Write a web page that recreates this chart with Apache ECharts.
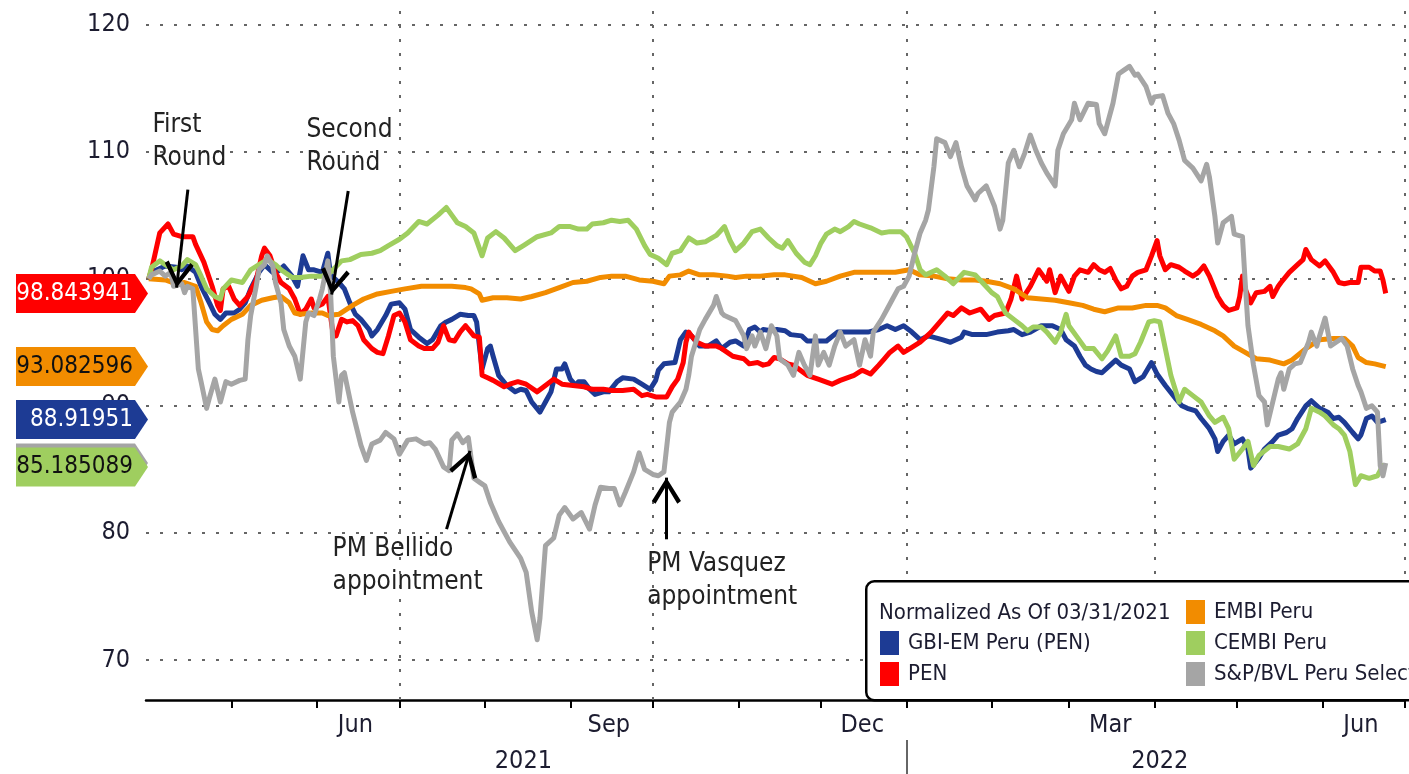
<!DOCTYPE html>
<html>
<head>
<meta charset="utf-8">
<title>Peru assets, normalized</title>
<script src="https://cdn.jsdelivr.net/npm/echarts@6/dist/echarts.min.js"></script>
<style>
  html, body { margin: 0; padding: 0; background: #fff; }
  #chart { width: 1409px; height: 774px; }
</style>
</head>
<body>
<div id="chart"></div>
<script>
// days are counted from 03/31/2021 (the normalization date)
const gbiPeru = [[1,100],[2,100.5],[7,101.0],[11,100.9],[13,100.7],[15,101.0],[18,100.5],[20,99.4],[23,98.1],[25,97.2],[27,96.8],[29,97.3],[32,97.3],[34,97.6],[36,98.1],[38,99.2],[41,100.5],[43,101.1],[46,100.5],[48,100.6],[50,101.0],[53,100.2],[55,99.4],[57,101.8],[59,100.7],[61,100.7],[64,100.5],[66,102.0],[67,100.3],[70,99.7],[72,99.2],[74,98.1],[76,97.2],[78,96.8],[81,96.0],[82,95.5],[84,96.0],[87,97.1],[89,98.0],[92,98.1],[94,97.6],[96,96.0],[99,95.4],[102,94.9],[104,95.2],[107,96.3],[109,96.6],[111,96.8],[114,97.2],[117,97.1],[119,97.1],[120,96.6],[122,92.9],[124,94.5],[125,94.7],[126,93.9],[128,92.4],[131,91.6],[134,91.1],[136,91.3],[138,91.2],[140,90.3],[143,89.5],[145,90.3],[147,91.1],[149,92.9],[151,92.9],[152,93.3],[154,92.1],[156,91.6],[157,91.9],[159,91.9],[161,91.3],[163,90.9],[166,91.1],[168,91.1],[171,91.9],[173,92.2],[177,92.1],[180,91.7],[183,91.3],[185,92.0],[186,92.8],[188,93.3],[192,93.4],[194,95.2],[196,95.8],[198,95.5],[201,94.7],[204,94.7],[207,95.1],[209,94.5],[212,95.0],[214,95.1],[217,94.7],[219,96.0],[221,96.2],[223,95.8],[224,96.0],[227,95.9],[229,96.0],[232,95.9],[234,95.6],[238,95.5],[240,95.1],[244,95.1],[247,95.1],[251,95.8],[254,95.8],[258,95.8],[262,95.8],[266,96.0],[269,96.3],[272,96.0],[275,96.3],[278,95.8],[281,95.2],[284,95.5],[289,95.2],[292,95.0],[296,95.4],[297,95.8],[300,95.6],[305,95.6],[309,95.8],[313,95.9],[315,96.0],[318,95.6],[321,95.8],[325,96.3],[329,96.3],[332,96.0],[334,95.2],[337,94.7],[339,93.9],[341,93.2],[343,92.9],[345,92.7],[347,92.6],[349,93.0],[352,93.6],[354,93.2],[357,92.9],[359,91.9],[362,92.3],[365,93.4],[367,92.5],[370,91.6],[374,90.5],[376,90.0],[378,89.8],[381,89.6],[383,89.0],[386,88.2],[388,87.4],[389,86.4],[391,87.2],[393,87.7],[395,87.0],[398,87.4],[400,86.6],[401,85.1],[404,85.9],[406,86.6],[409,87.2],[411,87.7],[414,87.9],[416,88.2],[418,89.0],[421,90.0],[423,90.4],[426,89.8],[429,89.5],[431,89.0],[433,89.1],[435,88.7],[438,87.9],[440,87.4],[441,87.7],[443,89.0],[445,89.2],[447,88.7],[450,88.91951]];

const pen = [[1,100],[2,100.7],[5,103.6],[8,104.3],[10,103.5],[13,103.3],[17,103.3],[18,102.7],[21,101.3],[24,99.4],[26,97.9],[27,97.5],[28,99.2],[30,99.4],[32,98.4],[34,97.9],[37,98.6],[40,99.9],[42,101.8],[43,102.4],[45,101.8],[47,100.5],[49,99.7],[52,99.2],[54,98.4],[56,97.2],[58,97.6],[60,98.4],[61,97.7],[64,98.0],[66,98.6],[68,95.5],[69,95.5],[71,96.8],[73,96.6],[75,96.7],[77,96.3],[79,95.2],[82,94.5],[84,94.2],[86,94.1],[88,95.5],[90,97.1],[92,97.3],[94,96.6],[96,95.2],[99,94.7],[101,94.5],[104,94.5],[106,95.0],[108,96.3],[110,95.2],[112,95.1],[114,95.8],[116,96.3],[119,95.5],[121,95.4],[122,92.4],[124,92.2],[126,92.0],[130,91.5],[132,91.7],[135,91.9],[138,91.7],[142,91.1],[145,91.6],[148,92.1],[151,91.7],[155,91.6],[159,91.5],[162,91.3],[166,91.3],[169,91.2],[173,91.2],[177,91.3],[180,90.8],[182,90.9],[185,90.7],[189,90.7],[191,91.5],[193,92.1],[195,93.4],[196,95.0],[197,95.8],[198,95.5],[200,95.0],[203,94.7],[207,94.7],[209,94.5],[213,93.9],[217,93.7],[219,93.3],[222,93.4],[224,93.2],[226,93.3],[228,93.8],[230,93.7],[233,93.3],[235,93.2],[240,92.4],[244,92.1],[249,91.7],[252,92.0],[257,92.4],[260,92.8],[263,92.5],[266,93.2],[268,93.7],[270,94.2],[273,94.7],[275,94.2],[278,94.6],[281,95.0],[285,95.8],[289,96.8],[291,97.3],[293,97.1],[296,97.7],[299,97.3],[303,97.6],[306,96.8],[308,97.1],[312,97.3],[314,98.4],[316,100.2],[318,98.4],[321,99.4],[324,100.7],[327,99.8],[328,100.7],[330,98.9],[332,100.2],[335,99.0],[337,100.2],[339,100.7],[342,100.5],[344,101.1],[346,100.7],[348,100.5],[350,100.8],[352,99.9],[354,99.2],[356,99.4],[358,100.2],[360,100.5],[363,100.7],[365,101.8],[367,103.0],[368,101.8],[370,100.7],[372,101.1],[375,100.9],[377,100.6],[380,100.2],[382,100.5],[384,101.0],[386,100.2],[389,98.6],[391,97.9],[393,97.5],[396,97.7],[397,98.6],[398,100.2],[399,99.2],[401,98.1],[403,98.9],[406,99.0],[408,99.4],[409,98.6],[411,99.4],[412,99.7],[415,100.5],[418,101.1],[420,101.5],[421,102.3],[423,101.5],[426,101.0],[428,101.4],[431,100.5],[433,99.7],[435,99.6],[437,99.7],[440,99.7],[441,100.9],[444,100.9],[446,100.6],[448,100.6],[449,99.9],[450,98.843941]];

const embiPeru = [[1,100],[7,99.9],[11,99.6],[14,99.7],[18,99.4],[20,98.1],[22,96.6],[24,96.0],[26,95.9],[28,96.3],[31,96.8],[35,97.2],[38,97.9],[42,98.3],[46,98.5],[49,98.6],[52,98.1],[54,97.3],[56,97.2],[60,97.3],[64,97.3],[66,97.1],[70,97.2],[75,97.9],[79,98.4],[84,98.8],[89,99.0],[94,99.2],[100,99.4],[105,99.4],[111,99.4],[116,99.3],[118,99.2],[121,98.8],[122,98.3],[126,98.5],[131,98.5],[136,98.4],[140,98.6],[145,98.9],[150,99.3],[155,99.7],[160,99.8],[165,100.1],[169,100.2],[174,100.2],[179,99.9],[184,99.8],[188,99.6],[190,100.2],[194,100.3],[197,100.6],[201,100.3],[206,100.3],[211,100.2],[214,100.1],[218,100.2],[223,100.2],[228,100.3],[232,100.3],[238,100.1],[243,99.6],[247,99.8],[252,100.2],[257,100.5],[264,100.5],[272,100.5],[277,100.7],[281,100.3],[286,100.2],[291,100.0],[296,99.9],[301,99.9],[305,99.8],[310,99.6],[315,99.2],[320,98.5],[325,98.4],[330,98.3],[335,98.1],[340,97.9],[344,97.6],[348,97.4],[353,97.7],[358,97.7],[363,97.9],[367,97.9],[370,97.7],[374,97.1],[378,96.8],[383,96.4],[388,95.9],[391,95.5],[395,94.7],[399,94.2],[403,93.7],[408,93.6],[413,93.3],[416,93.6],[421,94.5],[426,95.2],[431,95.3],[435,95.3],[438,94.7],[440,93.8],[443,93.4],[446,93.3],[450,93.082596]];

const cembiPeru = [[1,100],[2,100.9],[5,101.4],[7,101.1],[10,100.7],[13,101.0],[15,101.5],[18,101.1],[20,100.2],[22,99.2],[25,98.6],[27,98.4],[28,99.2],[31,99.9],[35,99.7],[38,100.7],[41,101.1],[44,101.5],[47,101.1],[49,100.7],[53,100.1],[56,100.1],[60,100.2],[64,100.2],[67,100.5],[71,101.4],[74,101.5],[78,101.9],[82,102.0],[85,102.2],[88,102.6],[92,103.1],[95,103.6],[99,104.5],[102,104.3],[106,105.0],[109,105.6],[111,105.0],[113,104.4],[116,104.1],[119,103.6],[122,101.8],[124,103.2],[127,103.7],[130,103.2],[134,102.2],[137,102.6],[142,103.3],[147,103.6],[150,104.1],[154,104.1],[157,103.9],[160,103.9],[162,104.3],[166,104.4],[169,104.6],[172,104.5],[175,104.6],[178,103.9],[181,102.6],[183,101.9],[186,101.6],[189,101.1],[191,102.0],[194,102.2],[197,103.2],[200,102.8],[203,102.9],[207,103.4],[210,104.1],[212,103.0],[214,102.2],[217,102.8],[220,103.7],[223,103.9],[226,103.2],[229,102.6],[231,102.4],[233,103.0],[236,102.0],[239,101.3],[241,101.1],[243,101.8],[245,102.8],[247,103.5],[250,103.9],[252,103.7],[255,104.1],[257,104.5],[259,104.3],[263,104.0],[267,103.6],[270,103.7],[274,103.7],[276,103.3],[279,102.0],[281,100.7],[283,100.3],[287,100.7],[290,100.2],[293,99.6],[297,100.5],[301,100.3],[304,99.6],[307,98.9],[309,98.6],[312,97.3],[315,96.8],[318,96.3],[320,95.9],[322,96.2],[325,96.2],[327,95.8],[330,95.0],[332,95.8],[334,97.2],[335,96.3],[338,95.4],[341,94.5],[344,94.5],[347,93.7],[349,94.3],[352,95.5],[354,93.9],[357,93.9],[359,94.1],[361,95.0],[364,96.6],[366,96.7],[368,96.6],[370,94.5],[372,92.4],[375,90.3],[377,91.3],[380,90.8],[383,90.3],[386,89.2],[388,88.7],[391,89.1],[393,88.2],[395,85.8],[398,86.6],[400,87.2],[402,85.3],[404,86.1],[408,86.8],[411,86.8],[415,86.6],[418,87.0],[421,88.2],[423,89.8],[426,89.5],[428,89.2],[431,88.5],[433,88.2],[435,87.7],[437,86.4],[439,83.8],[441,84.5],[444,84.3],[447,84.5],[449,85.3],[450,85.185089]];

const bvlPeru = [[1,100],[2,100.3],[5,100.6],[7,100.2],[9,100.5],[10,99.4],[13,99.6],[14,98.9],[15,99.4],[17,99.2],[19,92.9],[20,91.9],[22,89.8],[23,90.6],[25,92.1],[27,90.3],[29,91.9],[31,91.7],[34,92.0],[36,92.1],[37,95.2],[38,97.1],[40,99.4],[41,100.7],[43,101.1],[44,101.8],[46,101.0],[47,99.7],[49,98.1],[50,96.0],[52,94.7],[54,93.9],[56,92.1],[58,96.6],[59,97.3],[61,97.1],[63,98.4],[64,99.2],[66,101.4],[67,98.9],[68,93.9],[70,90.3],[71,92.4],[72,92.6],[75,89.5],[78,86.9],[80,85.7],[82,87.0],[85,87.3],[87,87.9],[90,87.4],[92,86.2],[95,87.3],[98,87.4],[101,87.0],[103,87.1],[105,86.6],[108,85.2],[110,84.9],[111,87.3],[113,87.8],[115,87.1],[117,87.5],[119,84.3],[121,84.0],[123,83.7],[125,82.4],[128,80.9],[132,79.3],[136,78.0],[138,76.9],[140,73.8],[142,71.6],[143,73.3],[145,79.0],[148,79.6],[150,81.4],[152,82.0],[155,81.1],[158,81.6],[161,80.3],[163,82.2],[165,83.6],[168,83.5],[170,83.5],[172,82.2],[174,83.2],[177,84.8],[179,86.3],[181,85.0],[184,84.6],[186,84.5],[188,84.8],[190,88.7],[191,89.5],[194,90.3],[196,91.3],[197,92.4],[198,93.9],[201,96.0],[203,96.8],[206,97.9],[207,98.6],[209,97.3],[210,97.1],[214,96.7],[217,95.5],[218,94.5],[220,95.5],[221,94.7],[223,95.8],[225,94.5],[227,96.3],[229,95.5],[230,93.7],[233,93.2],[235,92.4],[237,94.2],[239,93.2],[241,92.4],[243,95.5],[244,93.2],[246,94.2],[248,93.2],[250,94.7],[252,95.8],[254,94.7],[257,95.2],[259,93.2],[261,95.2],[263,93.9],[264,95.8],[267,96.8],[269,97.6],[271,98.4],[273,99.2],[275,99.4],[277,100.2],[279,102.0],[281,103.6],[283,104.6],[284,105.4],[286,108.8],[287,111.0],[290,110.7],[292,109.6],[294,110.7],[296,108.8],[298,107.3],[301,106.2],[302,106.7],[305,107.3],[308,105.7],[310,103.9],[311,104.6],[313,109.1],[315,110.1],[317,108.8],[319,109.9],[321,111.3],[323,110.1],[325,109.1],[327,108.3],[330,107.3],[331,110.1],[333,111.4],[336,112.5],[337,113.8],[339,112.5],[342,113.8],[345,113.7],[346,112.2],[348,111.4],[351,113.8],[353,116.1],[355,116.4],[357,116.7],[359,116.0],[360,116.1],[363,115.1],[365,113.8],[366,114.3],[369,114.4],[371,113.0],[373,112.2],[375,110.9],[377,109.3],[380,108.7],[383,107.7],[385,109.0],[386,108.0],[388,104.9],[389,102.8],[391,104.4],[394,104.9],[395,103.5],[398,103.3],[399,99.7],[400,96.3],[402,93.2],[404,90.8],[406,90.3],[407,88.5],[409,90.3],[411,92.1],[412,92.6],[413,91.3],[415,92.9],[417,93.3],[419,93.4],[422,95.0],[423,95.8],[425,94.7],[426,95.5],[428,96.9],[430,94.7],[432,95.0],[434,95.3],[436,94.7],[438,92.9],[440,91.6],[441,91.1],[443,89.8],[445,90.0],[447,89.5],[448,85.3],[449,84.5],[450,85.5]];

// axis ticks and labels
const yLabels = [70, 80, 90, 100, 110, 120];
const monthTicks = ['2021-05-01','2021-06-01','2021-07-01','2021-08-01','2021-09-01','2021-10-01','2021-11-01','2021-12-01','2022-01-01','2022-02-01','2022-03-01','2022-04-01','2022-05-01','2022-06-01','2022-07-01'];
const monthLabels = ['2021-06-15','2021-09-15','2021-12-16','2022-03-16','2022-06-15'];
const quarterLines = ['2021-07-01','2021-10-01','2022-01-01','2022-04-01','2022-07-01'];
const yearLabels = ['2021-08-15','2022-04-03'];
const yearBreaks = ['2022-01-01'];

// annotations: [text, day, value] for the text corner, arrows: [fromDay, fromValue, toDay, toValue]
const notes = [
  ['First\nRound', 2.5, 113.3],
  ['Second\nRound', 58.4, 112.9],
  ['PM Bellido\nappointment', 67.9, 80.0],
  ['PM Vasquez\nappointment', 182.1, 78.8]
];
const arrows = [
  [15.2, 107.0, 11.1, 99.3],
  [73.4, 106.9, 67.4, 98.75],
  [109.1, 80.3, 117.6, 86.45],
  [188.9, 79.5, 188.9, 84.35]
];

const FONT = "'DejaVu Sans Condensed', 'Liberation Sans', sans-serif";
const INK = '#1c1c30';
const MONTHS = ['Jan','Feb','Mar','Apr','May','Jun','Jul','Aug','Sep','Oct','Nov','Dec'];
const TAG = 'path://M0,0 L119,0 L132,19.5 L119,39 L0,39 Z';
const ARROW = 'path://M0,0 L0.1,0 L0,0.1 Z M100,0 L99.9,0 L100,0.1 Z M50,50 L78,95 L71,100 L50,65 L29,100 L22,95 Z';

function ymd(s) {
  const p = s.split('-').map(Number);
  return new Date(p[0], p[1] - 1, p[2]).getTime();
}
function dayTime(n) {
  return ymd('2021-03-31') + n * 86400000;
}
const X_MIN = ymd('2021-03-31');
const X_MAX = ymd('2022-07-01');

function toSeries(points) {
  return points.map(p => [dayTime(p[0]), p[1]]);
}

function lastTag(points, fill, textColor, z) {
  const last = points[points.length - 1][1];
  return {
    silent: true,
    z: z,
    symbol: TAG,
    symbolSize: [132, 39],
    symbolOffset: [-64, 0],
    symbolKeepAspect: false,
    itemStyle: { color: fill, borderWidth: 0 },
    label: {
      show: true,
      position: [117, 19.5],
      align: 'right',
      verticalAlign: 'middle',
      color: textColor,
      fontSize: 24,
      fontFamily: FONT,
      formatter: () => String(last)
    },
    data: [{ coord: [X_MIN, last] }]
  };
}

function lineSeries(name, points, color, tagText, tagZ) {
  return {
    name: name,
    type: 'line',
    data: toSeries(points),
    color: color,
    showSymbol: false,
    symbol: 'none',
    lineStyle: { width: 5, color: color, join: 'round' },
    markPoint: lastTag(points, color, tagText, tagZ)
  };
}

const chart = echarts.init(document.getElementById('chart'));

chart.setOption({
  animation: false,
  backgroundColor: '#fff',
  grid: { left: 146, right: 4, top: 0, bottom: 73 },
  title: {
    text: 'Normalized As Of 03/31/2021',
    left: 879, top: 602, padding: 0, z: 20,
    textStyle: { fontSize: 22, fontWeight: 'normal', color: INK, fontFamily: FONT }
  },
  legend: [
    {
      data: ['GBI-EM Peru (PEN)', 'PEN'],
      orient: 'vertical', left: 880, top: 631, padding: 0,
      itemWidth: 19, itemHeight: 24, itemGap: 7, icon: 'rect',
      selectedMode: false, z: 20,
      textStyle: { fontSize: 22, color: INK, fontFamily: FONT, padding: [0, 0, 0, 4] }
    },
    {
      data: ['EMBI Peru', 'CEMBI Peru', 'S&P/BVL Peru Select'],
      orient: 'vertical', left: 1186, top: 600, padding: 0,
      itemWidth: 19, itemHeight: 24, itemGap: 7, icon: 'rect',
      selectedMode: false, z: 20,
      textStyle: { fontSize: 22, color: INK, fontFamily: FONT, padding: [0, 0, 0, 4] }
    }
  ],
  graphic: [
    {
      type: 'rect', left: 865, top: 580, z: 10, silent: true,
      shape: { width: 560, height: 119, r: 8 },
      style: { fill: '#fff', stroke: '#000', lineWidth: 2.5 }
    }
  ],
  xAxis: [
    {
      type: 'value', min: X_MIN, max: X_MAX,
      axisLine: { show: true, lineStyle: { color: '#000', width: 2.5 } },
      axisTick: { show: true, customValues: monthTicks.map(ymd), length: 8, lineStyle: { color: '#000', width: 2 } },
      axisLabel: {
        customValues: monthLabels.map(ymd),
        formatter: v => MONTHS[new Date(v).getMonth()],
        fontSize: 25, fontFamily: FONT, color: INK, margin: 13
      },
      splitLine: { show: false }
    },
    {
      type: 'value', min: X_MIN, max: X_MAX, position: 'bottom', offset: 40,
      axisLine: { show: false },
      axisTick: { show: true, customValues: yearBreaks.map(ymd), length: 34, lineStyle: { color: '#333', width: 1.5 } },
      axisLabel: {
        customValues: yearLabels.map(ymd),
        formatter: v => String(new Date(v).getFullYear()),
        fontSize: 25, fontFamily: FONT, color: INK, margin: 9
      },
      splitLine: { show: false }
    }
  ],
  yAxis: {
    type: 'value', min: 66.86, max: 121.92,
    axisLine: { show: false },
    axisTick: { show: false },
    splitLine: { show: false },
    axisLabel: { customValues: yLabels, fontSize: 25, fontFamily: FONT, color: INK, margin: 16 }
  },
  series: [
    {
      // dotted grid behind the lines
      type: 'line', data: [], silent: true,
      markLine: {
        silent: true, z: 1, symbol: 'none', label: { show: false },
        lineStyle: { type: [3, 11], color: '#666', width: 2 },
        data: yLabels.map(v => ({ yAxis: v })).concat(quarterLines.map(d => ({ xAxis: ymd(d) })))
      }
    },
    lineSeries('GBI-EM Peru (PEN)', gbiPeru, '#1d3b94', '#fff', 5),
    lineSeries('PEN', pen, '#ff0000', '#fff', 5),
    lineSeries('EMBI Peru', embiPeru, '#f28c00', '#111', 5),
    lineSeries('CEMBI Peru', cembiPeru, '#9fce5f', '#111', 7),
    lineSeries('S&P/BVL Peru Select', bvlPeru, '#a5a5a5', '#111', 6),
    {
      // event arrows and notes
      type: 'line', data: [], silent: true,
      markLine: {
        silent: true, z: 8, symbol: ['none', ARROW], symbolSize: 52,
        label: { show: false },
        lineStyle: { type: 'solid', color: '#000', width: 3 },
        data: arrows.map(a => [{ coord: [dayTime(a[0]), a[1]] }, { coord: [dayTime(a[2]), a[3]] }])
      },
      markPoint: {
        silent: true, z: 8, symbol: 'rect', symbolSize: 1,
        itemStyle: { color: 'rgba(0,0,0,0)' },
        label: {
          show: true, position: [0, 0], align: 'left', verticalAlign: 'top',
          fontSize: 26, lineHeight: 33, color: '#222', fontFamily: FONT,
          formatter: p => p.name
        },
        data: notes.map(n => ({ name: n[0], coord: [dayTime(n[1]), n[2]] }))
      }
    }
  ]
});
</script>
</body>
</html>
